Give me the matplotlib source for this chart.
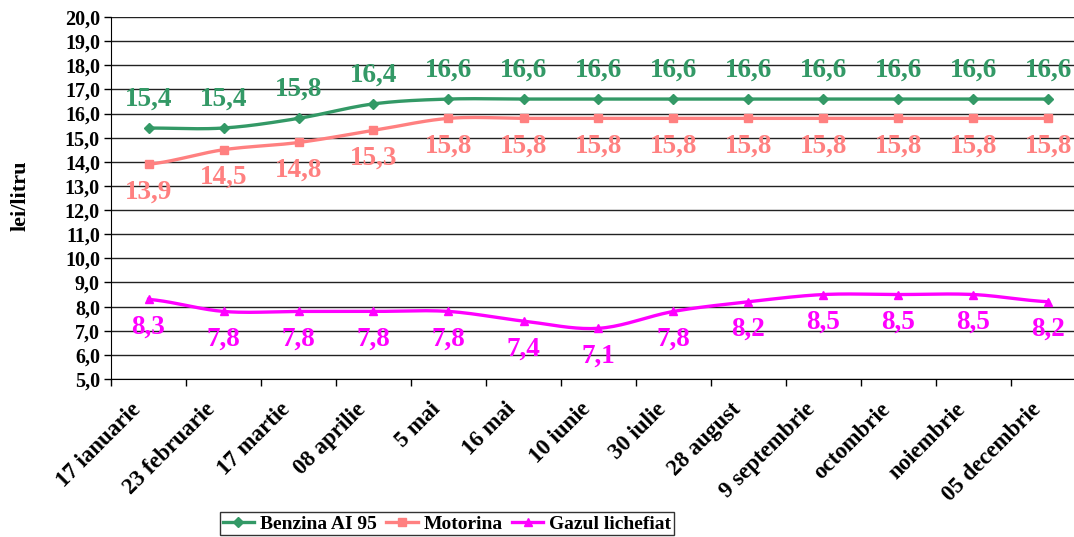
import numpy as np
import matplotlib
matplotlib.use("Agg")
import matplotlib.pyplot as plt
from matplotlib.ticker import FuncFormatter, MultipleLocator

date_labels = ["17 ianuarie", "23 februarie", "17 martie", "08 aprilie", "5 mai",
               "16 mai", "10 iunie", "30 iulie", "28 august", "9 septembrie",
               "octombrie", "noiembrie", "05 decembrie"]
benzina = [15.4, 15.4, 15.8, 16.4, 16.6, 16.6, 16.6, 16.6, 16.6, 16.6, 16.6, 16.6, 16.6]
motorina = [13.9, 14.5, 14.8, 15.3, 15.8, 15.8, 15.8, 15.8, 15.8, 15.8, 15.8, 15.8, 15.8]
gazul = [8.3, 7.8, 7.8, 7.8, 7.8, 7.4, 7.1, 7.8, 8.2, 8.5, 8.5, 8.5, 8.2]

green = "#339966"
pink = "#FF8080"
magenta = "#FF00FF"

plt.rcParams['font.family'] = ['Liberation Serif', 'DejaVu Serif']
plt.rcParams['font.weight'] = 'bold'


def smooth(xs, ys, n=20):
    # catmull-rom curve through the points, like the excel "smoothed line"
    xs = np.asarray(xs, float)
    ys = np.asarray(ys, float)
    px = np.concatenate([[2 * xs[0] - xs[1]], xs, [2 * xs[-1] - xs[-2]]])
    py = np.concatenate([[ys[0]], ys, [ys[-1]]])
    out_x, out_y = [], []
    t = np.linspace(0, 1, n, endpoint=False)
    for i in range(1, len(px) - 2):
        for p, o in ((px, out_x), (py, out_y)):
            p0, p1, p2, p3 = p[i - 1], p[i], p[i + 1], p[i + 2]
            o.extend(0.5 * ((2 * p1) + (-p0 + p2) * t
                            + (2 * p0 - 5 * p1 + 4 * p2 - p3) * t ** 2
                            + (-p0 + 3 * p1 - 3 * p2 + p3) * t ** 3))
    out_x.append(xs[-1])
    out_y.append(ys[-1])
    return out_x, out_y


fig = plt.figure(figsize=(10.74, 5.37), dpi=100)
ax = fig.add_axes([111 / 1074, 1 - 379 / 537, 975 / 1074, 362 / 537])

x = np.arange(len(date_labels))
series = [(benzina, green, "D", "Benzina AI 95", 21),
          (motorina, pink, "s", "Motorina", -20),
          (gazul, magenta, "^", "Gazul lichefiat", -20)]
for vals, col, mk, name, off in series:
    sx, sy = smooth(x, vals)
    ax.plot(sx, sy, color=col, lw=2.4, zorder=3)
    ax.plot(x, vals, ls="none", marker=mk, color=col, ms=5.5, zorder=4)
    ax.plot([], [], color=col, lw=2.4, marker=mk, ms=5.5, label=name)
    for xi, v in zip(x, vals):
        ax.annotate(f"{v:.1f}".replace(".", ","), (xi, v),
                    xytext=(0, off), textcoords="offset points",
                    ha="center", va="center", color=col,
                    fontsize=19.5, fontweight="bold")

ax.set_xlim(-0.5, len(date_labels) - 0.5)
ax.set_ylim(5, 20)
ax.yaxis.set_major_locator(MultipleLocator(1))
ax.yaxis.set_major_formatter(FuncFormatter(lambda v, p: f"{v:.1f}".replace(".", ",")))
ax.grid(axis="y", color="#222222", lw=1)
ax.set_axisbelow(True)

# category labels, placed by hand like excel does (right end a bit left of the category)
ax.set_xticks(x)
ax.set_xticklabels([])
for xi, lab in zip(x, date_labels):
    ax.annotate(lab, (xi, 0), xycoords=("data", "axes fraction"),
                xytext=(-8, -19.5), textcoords="offset points",
                rotation=45, ha="right", va="center", rotation_mode="anchor",
                fontsize=16.5, fontweight="bold", annotation_clip=False)
ax.set_xticks(np.arange(len(date_labels) + 1) - 0.5, minor=True)
ax.tick_params(axis="x", which="major", length=0)
ax.tick_params(axis="x", which="minor", length=5, width=1, color="black")
ax.tick_params(axis="y", length=5, width=1, labelsize=14.5, pad=3)
for lab in ax.get_yticklabels():
    lab.set_fontweight("bold")

for side in ("top", "right"):
    ax.spines[side].set_visible(False)
ax.spines["left"].set_color("black")
ax.spines["bottom"].set_color("black")

ax.set_ylabel("lei/litru", fontsize=16, fontweight="bold")
ax.yaxis.set_label_coords(-0.082, 0.505)

fig.legend(loc="upper left", bbox_to_anchor=(220 / 1074, 1 - 512 / 537),
           ncol=3, frameon=True, fancybox=False, edgecolor="black",
           handlelength=1.6, columnspacing=0.5, handletextpad=0.3,
           borderpad=0.15, borderaxespad=0,
           prop={"weight": "bold", "size": 14})

fig.savefig("out.png", dpi=100)
